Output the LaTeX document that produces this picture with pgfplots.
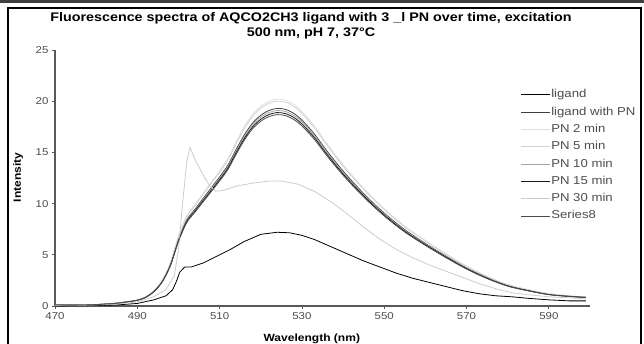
\documentclass[border=0pt]{standalone}
\usepackage{pgfplots}
\pgfplotsset{compat=1.18}
\usepackage{pgfplotstable}
\usepackage{fontspec}
\setmainfont{Liberation Sans}[FakeStretch=1.15]
\setsansfont{Liberation Sans}[FakeStretch=1.15]

\pgfplotstableread{
wl   a     b     c     d     e     f
470 0.10 0.10 0.10 0.09 0.09 0.09
476 0.10 0.10 0.10 0.10 0.09 0.09
480 0.15 0.15 0.14 0.14 0.14 0.14
484 0.25 0.25 0.24 0.24 0.23 0.23
487 0.40 0.40 0.38 0.38 0.37 0.37
490 0.60 0.59 0.57 0.57 0.56 0.56
492 0.90 0.89 0.86 0.85 0.84 0.83
494 1.50 1.49 1.43 1.42 1.40 1.39
496 2.50 2.48 2.39 2.36 2.34 2.31
498 4.20 4.16 4.01 3.97 3.93 3.89
500 6.80 6.73 6.49 6.43 6.36 6.29
502 8.80 8.71 8.40 8.32 8.23 8.14
504 9.90 9.80 9.45 9.36 9.26 9.16
506 11.0 10.89 10.51 10.40 10.29 10.18
508 12.1 11.98 11.56 11.43 11.31 11.19
510 13.2 13.07 12.61 12.47 12.34 12.21
512 14.4 14.26 13.75 13.61 13.46 13.32
514 16.0 15.84 15.28 15.12 14.96 14.80
516 17.5 17.33 16.71 16.54 16.36 16.19
518 18.7 18.51 17.86 17.67 17.48 17.30
520 19.5 19.31 18.62 18.43 18.23 18.04
522 20.0 19.80 19.10 18.90 18.70 18.50
524 20.2 20.00 19.29 19.09 18.89 18.69
526 20.1 19.90 19.20 18.99 18.79 18.59
528 19.7 19.50 18.81 18.62 18.42 18.22
530 19.0 18.81 18.15 17.96 17.77 17.58
533 17.6 17.42 16.81 16.63 16.46 16.28
536 15.9 15.74 15.18 15.03 14.87 14.71
540 13.8 13.66 13.18 13.04 12.90 12.77
545 11.5 11.39 10.98 10.87 10.75 10.64
550 9.5 9.41 9.07 8.98 8.88 8.79
555 7.8 7.72 7.45 7.37 7.29 7.22
560 6.4 6.34 6.11 6.05 5.98 5.92
565 5.1 5.05 4.87 4.82 4.77 4.72
570 3.9 3.86 3.72 3.69 3.65 3.61
575 2.9 2.87 2.77 2.74 2.71 2.68
580 2.1 2.08 2.01 1.98 1.96 1.94
585 1.6 1.58 1.53 1.51 1.50 1.48
590 1.2 1.19 1.15 1.13 1.12 1.11
595 1.0 0.99 0.96 0.95 0.94 0.93
599 0.9 0.89 0.86 0.85 0.84 0.83
}\cluster

\pgfplotstableread{
wl y
470 0.05
480 0.10
485 0.20
490 0.40
494 0.90
497 1.60
499 3.00
500 5.50
501 10.0
502 14.0
502.8 15.5
504 14.3
506 12.8
507.5 11.8
509 11.2
511 11.3
514 11.7
518 12.0
522 12.2
525 12.2
529 11.9
533 11.2
537 10.2
541 9.0
545 7.7
549 6.5
553 5.5
557 4.7
561 4.0
565 3.4
569 2.8
573 2.2
577 1.7
581 1.3
585 1.1
590 0.9
595 0.8
599 0.7
}\middle

\pgfplotstableread{
wl y
470 0.00
480 0.05
485 0.10
490 0.25
494 0.60
497 1.00
498.6 1.60
499.5 2.40
500.3 3.30
501.5 3.80
503 3.80
506 4.20
509 4.80
512.5 5.50
516 6.30
520 7.00
524 7.20
527 7.15
530 6.90
533 6.50
537 5.80
541 5.10
545 4.40
549 3.80
553 3.20
557 2.70
561 2.30
565 1.90
569 1.50
573 1.20
577 1.00
581 0.90
585 0.75
590 0.60
595 0.50
599 0.50
}\ligand

\begin{document}
\begin{tikzpicture}[x=1bp,y=1bp]
\useasboundingbox (0,0) rectangle (644,343);
% chart frame
\draw[gray!50!black, line width=2.5bp] (0,341.5) -- (644,341.5);
\draw[black, line width=1.6bp] (8,-2) -- (8,335) -- (641,335) -- (641,-2);
\begin{axis}[
  at={(55bp,37bp)}, anchor=origin,
  scale only axis, width=535bp, height=256bp,
  xmin=470, xmax=600, ymin=0, ymax=25,
  axis x line*=bottom, axis y line*=left,
  axis line style={gray!70!black, line width=1.2bp},
  xtick={470,490,...,590}, ytick={0,5,...,25},
  tick align=outside, major tick length=3bp,
  tick style={gray!70!black, line width=0.8bp},
  tick label style={font=\fontsize{10}{11}\selectfont, text=black!70},
  /pgf/number format/assume math mode=true,
  xlabel={\bfseries Wavelength (nm)},
  ylabel={\bfseries Intensity},
  label style={font=\fontsize{10.5}{12}\selectfont},
  xlabel style={at={(axis description cs:0.48,0)}, anchor=center, yshift=-33bp},
  ylabel style={at={(axis description cs:-0.069,0.502)}, anchor=center},
  legend style={at={(axis description cs:0.865,0.857)}, anchor=north west,
    draw=none, fill=none, font=\fontsize{11.5}{13}\selectfont, text=black!70,
    row sep=5.3bp, nodes={inner sep=0.5bp, text height=8.5bp, text depth=2.5bp}},
  legend cell align=left,
  legend image code/.code={\draw[#1] (0bp,0bp) -- (29bp,0bp);},
  every axis plot/.append style={line width=0.8bp},
  clip=false,
]
\addplot[black] table[x=wl,y=y] {\ligand};
\addlegendentry{ligand}
\addplot[gray!50!black, smooth] table[x=wl,y=c] {\cluster};
\addlegendentry{ligand with PN}
\addplot[gray!25, smooth] table[x=wl,y=a] {\cluster};
\addlegendentry{PN 2 min}
\addplot[gray!35, smooth] table[x=wl,y=b] {\cluster};
\addlegendentry{PN 5 min}
\addplot[gray!70, smooth] table[x=wl,y=d] {\cluster};
\addlegendentry{PN 10 min}
\addplot[black!90, smooth] table[x=wl,y=e] {\cluster};
\addlegendentry{PN 15 min}
\addplot[gray!40] table[x=wl,y=y] {\middle};
\addlegendentry{PN 30 min}
\addplot[gray!60!black, smooth] table[x=wl,y=f] {\cluster};
\addlegendentry{Series8}
\end{axis}
\node[font=\bfseries\fontsize{12.5}{15}\selectfont, align=center, anchor=north] at (311,334)
  {Fluorescence spectra of AQCO2CH3 ligand with 3 \_l PN over time, excitation\\500 nm, pH 7, 37°C};
\end{tikzpicture}
\end{document}
